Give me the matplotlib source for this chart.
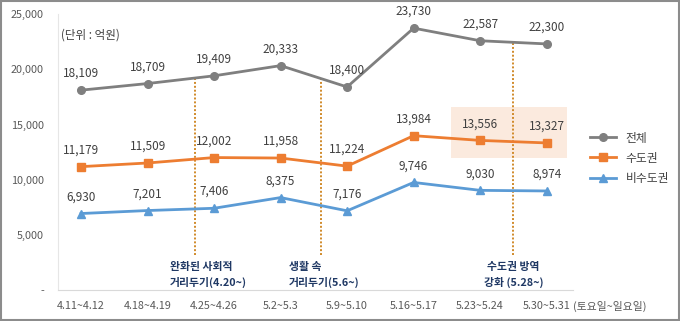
import matplotlib
matplotlib.use("Agg")
import matplotlib.pyplot as plt
import numpy as np
from matplotlib.patches import Rectangle

plt.rcParams['font.family'] = ['Noto Sans CJK KR', 'DejaVu Sans']

categories = ["4.11~4.12", "4.18~4.19", "4.25~4.26", "5.2~5.3", "5.9~5.10",
              "5.16~5.17", "5.23~5.24", "5.30~5.31"]
total = [18109, 18709, 19409, 20333, 18400, 23730, 22587, 22300]
capital = [11179, 11509, 12002, 11958, 11224, 13984, 13556, 13327]
noncapital = [6930, 7201, 7406, 8375, 7176, 9746, 9030, 8974]
series_names = ["전체", "수도권", "비수도권"]
yticks = [0, 5000, 10000, 15000, 20000, 25000]
ytick_labels = ["-", "5,000", "10,000", "15,000", "20,000", "25,000"]
event_pos = [1.72, 3.6, 6.5]
event_texts = ["완화된 사회적\n거리두기(4.20~)", "생활 속\n거리두기(5.6~)", "수도권 방역\n강화 (5.28~)"]
unit_text = "(단위 : 억원)"
xaxis_note = "(토요일~일요일)"

gray = "#7f7f7f"
orange = "#ed7d31"
blue = "#5b9bd5"
txt = "#404040"
navy = "#1f3864"

fig = plt.figure(figsize=(6.8, 3.21), dpi=100)
ax = fig.add_axes([0.085, 0.0966, 0.758, 0.8594])
x = np.arange(len(categories))

# shaded highlight
ax.add_patch(Rectangle((5.56, 11950), 1.74, 4650, facecolor="#fbe5d6",
                       edgecolor="none", alpha=0.8, zorder=0))

# event dotted lines from above the notes up to the total line
for p in event_pos:
    top = np.interp(p, x, total)
    ax.plot([p, p], [3200, top], color="#d08a2a", lw=1.4, linestyle=(0, (1, 1)), zorder=1)

ax.plot(x, total, color=gray, lw=2, marker="o", ms=5.5, label=series_names[0], zorder=3)
ax.plot(x, capital, color=orange, lw=2, marker="s", ms=5.5, label=series_names[1], zorder=3)
ax.plot(x, noncapital, color=blue, lw=2, marker="^", ms=6, label=series_names[2], zorder=3)

for series in (total, capital, noncapital):
    for xi, v in zip(x, series):
        ax.annotate(f"{v:,}", (xi, v), xytext=(0, 12), textcoords="offset points",
                    ha="center", va="center", fontsize=8.5, color=txt)

ax.set_xlim(-0.35, 7.4)
ax.set_ylim(0, 25000)
ax.set_yticks(yticks)
ax.set_yticklabels(ytick_labels)
ax.set_xticks(x)
ax.set_xticklabels(categories)
ax.tick_params(axis="both", length=0, labelsize=7.8, labelcolor="#595959")
ax.tick_params(axis="y", pad=10)
ax.tick_params(axis="x", pad=8)
for s in ("top", "right"):
    ax.spines[s].set_visible(False)
ax.spines["left"].set_color("#e6e6e6")
ax.spines["bottom"].set_color("#d9d9d9")

ax.text(0.14, 23100, unit_text, fontsize=8.3, color=txt, ha="center", va="center")

ann_x = [1.33, 3.12, 6.5]
ann_ha = ["left", "left", "center"]
for p, t, ha in zip(ann_x, event_texts, ann_ha):
    ax.text(p, 1350, t, fontsize=7.8, color=navy, ha=ha, va="center",
            linespacing=1.6, fontweight="bold")

fig.text(573 / 680, 1 - 306 / 321, xaxis_note, fontsize=7.8, color="#595959",
         ha="left", va="center")

leg = ax.legend(loc="center left", bbox_to_anchor=(1.01, 0.478), frameon=False,
                fontsize=8.5, handlelength=2.2, labelspacing=0.6, borderaxespad=0.6)
for t in leg.get_texts():
    t.set_color(txt)

fig.patches.append(Rectangle((0.002, 0.003), 0.996, 0.994, transform=fig.transFigure,
                             fill=False, edgecolor="#8c8c8c", lw=1.5))

fig.savefig("out.png", dpi=100)
